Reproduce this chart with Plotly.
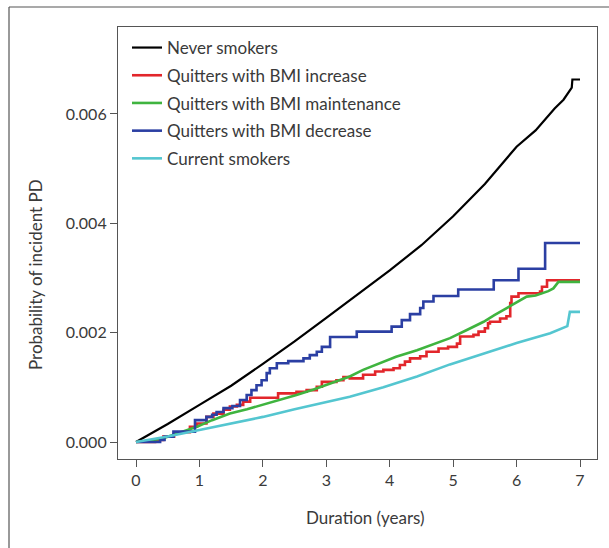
import plotly.graph_objects as go

# ---- data ----
never_t = [0, 0.5, 1.0, 1.5, 2.0, 2.5, 3.0, 3.5, 4.0, 4.5, 5.0, 5.5, 6.0, 6.3, 6.6, 6.74, 6.87, 6.88, 7.0]
never_p = [0, 0.00033, 0.00068, 0.00103, 0.00143, 0.00184, 0.00227, 0.00270, 0.00314, 0.00360,
           0.00413, 0.00472, 0.00540, 0.00570, 0.00610, 0.00626, 0.00648, 0.00663, 0.00663]

inc_t = [0, 0.3, 0.43, 0.6, 0.85, 0.96, 1.11, 1.22, 1.38, 1.48, 1.59, 1.69, 1.80, 2.24, 2.53, 2.69,
         2.85, 2.93, 3.16, 3.27, 3.37, 3.58, 3.77, 3.90, 4.06, 4.16, 4.24, 4.32, 4.48, 4.58, 4.77,
         4.92, 5.06, 5.11, 5.32, 5.40, 5.50, 5.55, 5.58, 5.74, 5.84, 5.90, 5.92, 6.03, 6.37, 6.40,
         6.48, 7.0]
inc_p = [0, 0.00004, 0.0001, 0.00018, 0.00028, 0.00034, 0.00046, 0.00052, 0.00059, 0.00065, 0.00068,
         0.00074, 0.00081, 0.00089, 0.00092, 0.00095, 0.00101, 0.00110, 0.00113, 0.00119, 0.001165,
         0.00123, 0.00129, 0.00132, 0.00135, 0.00141, 0.00147, 0.00153, 0.00157, 0.00165, 0.00171,
         0.00174, 0.00180, 0.00193, 0.00196, 0.00202, 0.00208, 0.00217, 0.00220, 0.00226, 0.00230,
         0.00254, 0.00266, 0.00272, 0.00275, 0.00284, 0.00296, 0.00296]

main_t = [0, 0.2, 0.43, 0.7, 0.96, 1.2, 1.48, 1.75, 2.0, 2.25, 2.53, 2.8, 3.06, 3.37, 3.58, 3.85,
          4.1, 4.43, 4.7, 4.95, 5.2, 5.48, 5.65, 5.84, 6.0, 6.16, 6.3, 6.42, 6.5, 6.58, 6.62, 6.66, 7.0]
main_p = [0, 0.00002, 0.00007, 0.00017, 0.00028, 0.00040, 0.00052, 0.00060, 0.00068, 0.00077,
          0.00086, 0.00096, 0.00107, 0.00120, 0.00132, 0.00144, 0.00156, 0.00168, 0.00179, 0.00190,
          0.00204, 0.00220, 0.00232, 0.00245, 0.00256, 0.00266, 0.00268, 0.00272, 0.00276, 0.00281,
          0.00286, 0.00293, 0.00293]

dec_t = [0, 0.38, 0.45, 0.59, 0.93, 1.11, 1.2, 1.27, 1.38, 1.52, 1.64, 1.745, 1.82, 1.90, 1.98,
         2.06, 2.11, 2.22, 2.40, 2.64, 2.74, 2.85, 2.93, 3.06, 3.48, 4.03, 4.19, 4.32, 4.48, 4.53,
         4.69, 5.08, 5.64, 6.03, 6.45, 7.0]
dec_p = [0, 0.00004, 0.0001, 0.00019, 0.0004, 0.00046, 0.0005, 0.00055, 0.00062, 0.00066, 0.00077,
         0.00086, 0.00095, 0.00104, 0.00113, 0.00126, 0.00135, 0.00144, 0.00148, 0.00153, 0.00159,
         0.00165, 0.00174, 0.00192, 0.00202, 0.00211, 0.00223, 0.00234, 0.00245, 0.00257, 0.00267,
         0.00279, 0.00296, 0.00317, 0.00364, 0.00364]

cur_t = [0, 0.5, 1.0, 1.5, 2.0, 2.5, 3.0, 3.37, 3.9, 4.43, 4.95, 5.48, 6.0, 6.53, 6.74, 6.80, 6.84, 7.0]
cur_p = [0, 0.0001, 0.00022, 0.00034, 0.00046, 0.00060, 0.00074, 0.00083, 0.00100, 0.00120,
         0.00142, 0.00162, 0.00181, 0.00199, 0.00208, 0.00212, 0.00238, 0.00238]

series_names = ["Never smokers", "Quitters with BMI increase", "Quitters with BMI maintenance",
                "Quitters with BMI decrease", "Current smokers"]
x_ticks = [0, 1, 2, 3, 4, 5, 6, 7]
y_ticks = [0, 0.002, 0.004, 0.006]

# ---- figure ----
FONT = "Lato"
TXT = "#3a3a3a"
AX = "#555555"

series = [
    (never_t, never_p, "#000000", "linear", 2.2),
    (inc_t, inc_p, "#e2262b", "hv", 2.6),
    (main_t, main_p, "#3fb43f", "linear", 2.6),
    (dec_t, dec_p, "#2b3fa3", "hv", 2.6),
    (cur_t, cur_p, "#54c6d0", "linear", 2.6),
]

fig = go.Figure()
for i, (t, p, c, shape, w) in enumerate(series):
    fig.add_trace(go.Scatter(x=t, y=p, mode="lines", name=series_names[i],
                             legendgroup=str(i),
                             line=dict(color=c, width=w, shape=shape)))

W, H = 609, 548
L, R, T, B = 118, 12, 27, 89
pw, ph = W - L - R, H - T - B

def px(x):
    return (x - L) / pw

def py(y):
    return (H - B - y) / ph

fig.update_layout(
    width=W, height=H,
    margin=dict(l=L, r=R, t=T, b=B),
    paper_bgcolor="white", plot_bgcolor="white",
    font=dict(family=FONT, size=16, color=TXT),
    showlegend=True,
    legend=dict(x=px(127), y=py(30), xanchor="left", yanchor="top",
                bgcolor="rgba(0,0,0,0)", borderwidth=0,
                traceorder="grouped", tracegroupgap=2.6,
                font=dict(family=FONT, size=17, color=TXT)),
    xaxis=dict(range=[-0.284, 7.268], tickvals=x_ticks, ticktext=[str(v) for v in x_ticks],
               showgrid=False, zeroline=False, showline=True, linecolor=AX, linewidth=1.2,
               mirror=True, ticks="outside", ticklen=7, tickcolor=AX, tickwidth=1.2,
               tickfont=dict(family=FONT, size=16, color=TXT)),
    yaxis=dict(range=[-0.00031, 0.00759], tickvals=y_ticks, ticktext=["%.3f" % v for v in y_ticks],
               showgrid=False, zeroline=False, showline=True, linecolor=AX, linewidth=1.2,
               mirror=True, ticks="outside", ticklen=7, tickcolor=AX, tickwidth=1.2,
               tickfont=dict(family=FONT, size=16, color=TXT)),
    annotations=[
        dict(text="Duration (years)", x=px(365), y=py(517), xref="paper", yref="paper",
             showarrow=False, xanchor="center", yanchor="middle",
             font=dict(family=FONT, size=17, color=TXT)),
        dict(text="Probability of incident PD", x=px(35), y=py(275), xref="paper", yref="paper",
             showarrow=False, xanchor="center", yanchor="middle", textangle=-90,
             font=dict(family=FONT, size=17, color=TXT)),
    ],
    shapes=[
        dict(type="line", xref="paper", yref="paper", x0=px(9), x1=px(9), y0=py(W), y1=py(7),
             line=dict(color="#555555", width=1.2)),
        dict(type="line", xref="paper", yref="paper", x0=px(9), x1=px(W + 5), y0=py(7), y1=py(7),
             line=dict(color="#555555", width=1.2)),
    ],
)

fig.write_html("out.html", config={"displayModeBar": False},
               post_script="document.body.style.margin='0px';")
